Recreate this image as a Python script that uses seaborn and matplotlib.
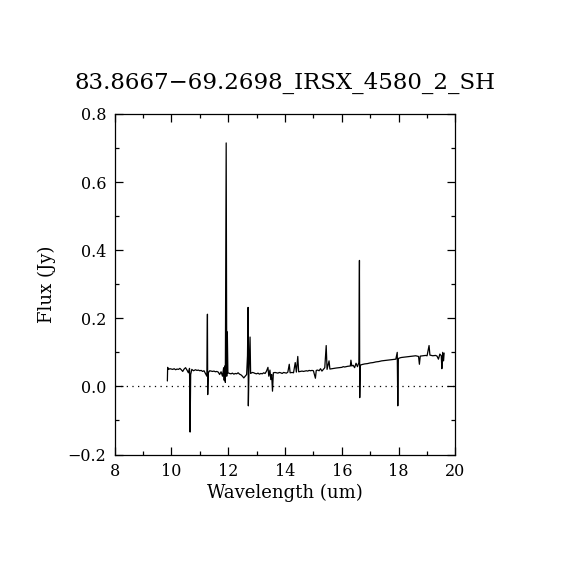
import matplotlib
matplotlib.use("Agg")
import matplotlib.pyplot as plt
import seaborn as sns
import pandas as pd
from matplotlib.ticker import MultipleLocator

title = "83.8667\u221269.2698_IRSX_4580_2_SH"
x_label = "Wavelength (um)"
y_label = "Flux (Jy)"

wavelength = [
    9.86, 9.87, 9.90, 9.95, 10.00, 10.05, 10.10, 10.15, 10.20, 10.25, 10.30, 10.35,
    10.40, 10.45, 10.50, 10.55, 10.60, 10.64, 10.66, 10.68, 10.72, 10.78, 10.85, 10.90,
    10.95, 11.00, 11.05, 11.10, 11.15, 11.20, 11.25, 11.27, 11.28, 11.30, 11.35, 11.40,
    11.45, 11.50, 11.55, 11.60, 11.65, 11.70, 11.75, 11.80, 11.84, 11.86, 11.88, 11.90,
    11.93, 11.95, 11.97, 11.99, 12.05, 12.10, 12.15, 12.20, 12.25, 12.30, 12.35, 12.40,
    12.45, 12.50, 12.55, 12.60, 12.65, 12.68, 12.70, 12.71, 12.73, 12.77, 12.79, 12.85,
    12.90, 12.95, 13.00, 13.05, 13.10, 13.15, 13.20, 13.25, 13.30, 13.35, 13.40, 13.43,
    13.47, 13.50, 13.53, 13.56, 13.59, 13.65, 13.70, 13.75, 13.80, 13.85, 13.90, 13.95,
    14.00, 14.05, 14.10, 14.15, 14.18, 14.25, 14.30, 14.36, 14.40, 14.45, 14.48, 14.55,
    14.60, 14.65, 14.70, 14.75, 14.80, 14.85, 14.90, 14.95, 15.00, 15.07, 15.10, 15.15,
    15.20, 15.25, 15.30, 15.35, 15.40, 15.45, 15.48, 15.55, 15.58, 15.65, 15.70, 15.80,
    15.90, 16.00, 16.05, 16.10, 16.20, 16.30, 16.32, 16.35, 16.40, 16.45, 16.50, 16.55,
    16.60, 16.62, 16.63, 16.65, 16.70, 16.80, 16.90, 17.00, 17.10, 17.20, 17.30, 17.40,
    17.50, 17.60, 17.70, 17.80, 17.90, 17.95, 17.97, 17.99, 18.05, 18.10, 18.20, 18.30,
    18.40, 18.50, 18.60, 18.70, 18.73, 18.76, 18.85, 18.95, 19.00, 19.07, 19.10, 19.20,
    19.30, 19.35, 19.40, 19.45, 19.50, 19.52, 19.55, 19.58, 19.60,
]
flux = [
    0.016, 0.056, 0.050, 0.052, 0.051, 0.050, 0.052, 0.049, 0.051, 0.050, 0.053, 0.049,
    0.044, 0.051, 0.055, 0.048, 0.040, 0.053, -0.134, 0.035, 0.050, 0.046, 0.049, 0.047,
    0.048, 0.046, 0.047, 0.044, 0.046, 0.038, 0.030, 0.212, -0.024, 0.040, 0.046, 0.045,
    0.044, 0.045, 0.043, 0.044, 0.042, 0.035, 0.043, 0.030, 0.055, 0.018, 0.060, 0.012,
    0.715, 0.030, 0.160, 0.040, 0.038, 0.037, 0.039, 0.036, 0.038, 0.037, 0.040, 0.036,
    0.034, 0.030, 0.025, 0.030, 0.035, 0.090, 0.232, -0.057, 0.040, 0.145, 0.038, 0.041,
    0.040, 0.038, 0.037, 0.039, 0.036, 0.038, 0.037, 0.040, 0.038, 0.045, 0.056, 0.030,
    0.048, 0.020, 0.035, -0.014, 0.040, 0.041, 0.040, 0.039, 0.041, 0.040, 0.038, 0.041,
    0.040, 0.039, 0.042, 0.065, 0.040, 0.041, 0.040, 0.070, 0.042, 0.088, 0.043, 0.044,
    0.045, 0.044, 0.045, 0.046, 0.045, 0.047, 0.046, 0.047, 0.046, 0.024, 0.047, 0.048,
    0.046, 0.052, 0.045, 0.050, 0.055, 0.120, 0.050, 0.075, 0.051, 0.052, 0.053, 0.054,
    0.055, 0.056, 0.058, 0.057, 0.059, 0.060, 0.077, 0.060, 0.062, 0.055, 0.068, 0.058,
    0.070, 0.370, -0.033, 0.062, 0.064, 0.066, 0.067, 0.069, 0.070, 0.072, 0.073, 0.075,
    0.076, 0.077, 0.078, 0.079, 0.080, 0.100, -0.057, 0.082, 0.084, 0.085, 0.086, 0.087,
    0.088, 0.089, 0.090, 0.088, 0.065, 0.089, 0.090, 0.091, 0.090, 0.120, 0.092, 0.090,
    0.091, 0.089, 0.080, 0.095, 0.090, 0.052, 0.100, 0.075, 0.098,
]

x_ticks = [8, 10, 12, 14, 16, 18, 20]
y_ticks = [-0.2, 0.0, 0.2, 0.4, 0.6, 0.8]

sns.set_theme(style="white")
plt.rcParams["font.family"] = ["DejaVu Serif"]
plt.rcParams["text.color"] = "black"
plt.rcParams["axes.labelcolor"] = "black"

df = pd.DataFrame({"wavelength": wavelength, "flux": flux})

fig = plt.figure(figsize=(5.7, 5.7), dpi=100)
ax = fig.add_axes([0.2009, 0.2026, 0.5982, 0.5974])

sns.lineplot(data=df, x="wavelength", y="flux", ax=ax, color="black",
             linewidth=0.9, estimator=None, sort=False)
ax.axhline(0, color="black", linewidth=0.9, linestyle=(0, (1, 3.5)))

ax.set_xlim(8, 20)
ax.set_ylim(-0.2, 0.8)
ax.set_xticks(x_ticks)
ax.set_yticks(y_ticks)
ax.set_xticklabels([str(v) for v in x_ticks])
ax.set_yticklabels([f"{v:.1f}".replace("-", "\u2212") for v in y_ticks])
ax.xaxis.set_minor_locator(MultipleLocator(1))
ax.yaxis.set_minor_locator(MultipleLocator(0.1))
ax.tick_params(which="both", direction="in", top=True, right=True,
               bottom=True, left=True, colors="black", width=0.9)
ax.tick_params(which="major", length=6, labelsize=11.5, pad=6)
ax.tick_params(which="minor", length=3)
for s in ax.spines.values():
    s.set_color("black")
    s.set_linewidth(0.9)

ax.set_xlabel(x_label, fontsize=13, labelpad=3, color="black")
ax.set_ylabel(y_label, fontsize=13, labelpad=8, color="black")
ax.set_title(title, fontsize=16.5, pad=18, color="black")

fig.savefig("out.png", dpi=100, facecolor="white")
